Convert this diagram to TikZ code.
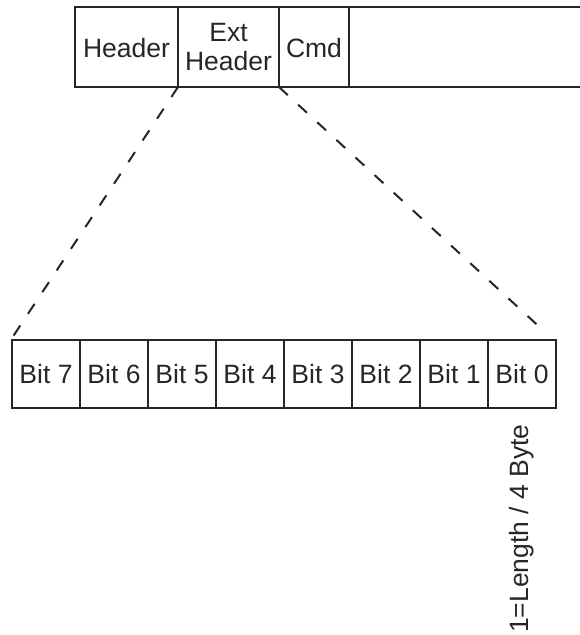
\documentclass[tikz,border=0pt]{standalone}
\usepackage{fontspec}
\setmainfont{Liberation Sans}
\begin{document}
\begin{tikzpicture}[x=1pt,y=-1pt,
  box/.style={draw=black!85,line width=2pt},
  lbl/.style={font=\fontsize{26.5}{28.5}\selectfont,text=black!85,inner sep=0pt,align=center},
  guide/.style={draw=black!85,line width=2pt,dash pattern=on 12pt off 14pt}]
\useasboundingbox (0,0) rectangle (579,635);
% top row
\draw[box] (581,7) -- (75,7) -- (75,87) -- (581,87);
\draw[box] (178,7) -- (178,87);
\draw[box] (279,7) -- (279,87);
\draw[box] (349,7) -- (349,87);
\coordinate (extL) at (178,87);
\coordinate (extR) at (279,87);
\node[lbl] (hdr) at (126.5,48) {Header};
\node[lbl] (ext) at (228.5,47) {Ext\\Header};
\node[lbl] (cmd) at (314,48) {Cmd};
% bottom row
\foreach \i/\t in {0/7,1/6,2/5,3/4,4/3,5/2,6/1,7/0}{
  \draw[box] ({12+68*\i},340) rectangle ({12+68*(\i+1)},408);
  \node[lbl] (b\t) at ({46+68*\i},374) {Bit \t};
}
\coordinate (botL) at (12,338);
\coordinate (botR) at (546,333);
\draw[guide] (extL) -- (botL);
\draw[guide] (extR) -- (botR);
\node[lbl,rotate=90,anchor=base west] (note) at (528,633) {1=Length / 4 Byte};
\end{tikzpicture}
\end{document}
